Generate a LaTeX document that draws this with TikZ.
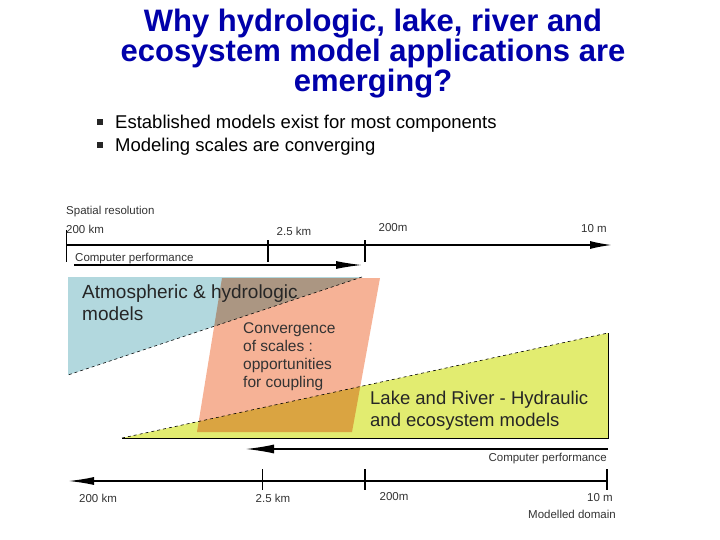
\documentclass[tikz,border=0pt]{standalone}
\usepackage{fontspec}
\setmainfont{Liberation Sans}
\usetikzlibrary{arrows.meta}
\begin{document}
\begin{tikzpicture}[x=1pt,y=-1pt,
  lbl/.style={inner sep=0pt,font=\fontsize{11.5}{12}\selectfont,text=black!80},
  axis/.style={line width=1.6pt},
  tick/.style={line width=1.8pt},
  model/.style={inner sep=0pt,align=left,anchor=north west},
  sq/.style={fill=black!85,inner sep=0pt,minimum size=6pt},
  blt/.style={inner sep=0pt,anchor=west,font=\fontsize{18.5}{20}\selectfont}]
\useasboundingbox (0,0) rectangle (720,540);
\definecolor{tblue}{RGB}{0,0,170}
\definecolor{mblue}{RGB}{178,216,222}
\definecolor{mpeach}{RGB}{246,178,150}
\definecolor{myellow}{RGB}{226,236,112}
% title
\node[inner sep=0pt,align=center,text=tblue,font=\bfseries\fontsize{31}{30}\selectfont] (title) at (373,54) {Why hydrologic, lake, river and\\ecosystem model applications are\\emerging?};
\node[sq] (b1) at (100,122) {};
\node[blt] (t1) at (115,124) {Established models exist for most components};
\node[sq] (b2) at (100,145) {};
\node[blt] (t2) at (115,147) {Modeling scales are converging};
% shapes
\fill[mblue] (68,277) -- (362,277) -- (68,375) -- cycle;
\fill[myellow] (122,438) -- (608,438) -- (608,333) -- cycle;
\begin{scope}[blend mode=multiply]
\fill[mpeach] (222,278) -- (380,278) -- (352,432) -- (197,432) -- cycle;
\end{scope}
\draw[dashed,line width=0.6pt] (362,277) -- (68,375);
\draw[dashed,line width=0.6pt] (122,438) -- (608,333);
\draw[line width=0.6pt] (122,438) -- (608,438) -- (608,333);
% top axis
\coordinate (ta) at (66,245); \coordinate (tb) at (612,245);
\draw[axis,-{Latex[length=22pt,width=8pt]}] (ta) -- (tb);
\draw[line width=0.8pt] (66,230) -- (66,262);
\draw[tick] (268,240) -- (268,262);
\draw[tick] (365,240) -- (365,262);
\node[lbl,anchor=west] (sr) at (66,212) {Spatial resolution};
\node[lbl,anchor=west] (a1) at (66,229) {200 km};
\node[lbl] (a2) at (294,231) {2.5 km};
\node[lbl] (a3) at (393,228) {200m};
\node[lbl] (a4) at (594,229) {10 m};
\coordinate (ca) at (74,265); \coordinate (cb) at (362,265);
\draw[line width=1.2pt,-{Latex[length=26pt,width=8pt]}] (ca) -- (cb);
\node[lbl,anchor=west] (cp1) at (75,259) {Computer performance};
% bottom arrow
\coordinate (da) at (608,449); \coordinate (db) at (246,449);
\draw[line width=1.2pt,-{Latex[length=28pt,width=9pt]}] (da) -- (db);
\node[lbl,anchor=east] (cp2) at (607,459) {Computer performance};
% bottom axis
\coordinate (ea) at (607,481); \coordinate (eb) at (68,481);
\draw[axis,-{Latex[length=26pt,width=8pt]}] (ea) -- (eb);
\draw[line width=0.8pt] (262,469) -- (262,490);
\draw[tick] (365,469) -- (365,490);
\draw[tick] (607,469) -- (607,490);
\node[lbl] (c1) at (98,498) {200 km};
\node[lbl] (c2) at (273,498) {2.5 km};
\node[lbl] (c3) at (394,497) {200m};
\node[lbl] (c4) at (600,498) {10 m};
\node[lbl,anchor=east] (md) at (616,514) {Modelled domain};
% model labels
\node[model,font=\fontsize{19}{22}\selectfont,text=black!85] (atm) at (82,285) {Atmospheric \& hydrologic\\models};
\node[model,font=\fontsize{15.5}{18}\selectfont,text=black!80] (conv) at (243,322) {Convergence\\of scales :\\opportunities\\for coupling};
\node[model,font=\fontsize{18.5}{22}\selectfont,text=black!85] (lake) at (370,391) {Lake and River - Hydraulic\\and ecosystem models};
\end{tikzpicture}
\end{document}
